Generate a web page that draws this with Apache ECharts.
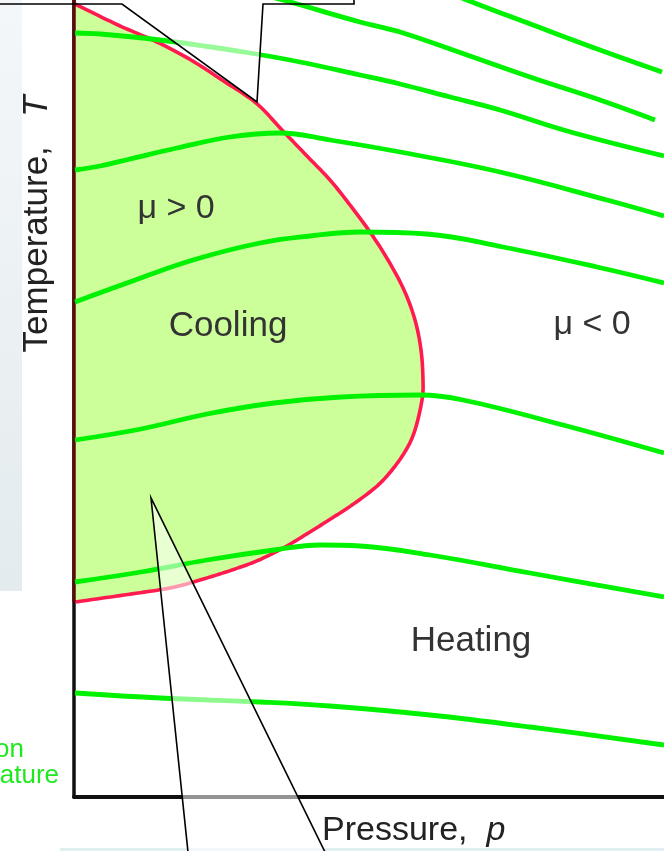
<!DOCTYPE html>
<html>
<head>
<meta charset="utf-8">
<style>html,body{margin:0;padding:0;background:#fff;}#c{width:664px;height:851px;}</style>
<script src="https://cdn.jsdelivr.net/npm/echarts@6/dist/echarts.min.js"></script>
</head>
<body>
<div id="c"></div>
<script>
// Pressure p (axis units) and temperature T (axis units)
var invP = [1, 44, 83, 117, 148, 182, 208, 232, 256, 276, 296, 314, 330, 341, 347, 349, 348, 341, 332, 318, 302, 278, 255, 231, 211, 185, 158, 126, 96, 50, 1];
var invT = [793, 772, 755, 737, 717, 694, 667, 642, 617, 592, 565, 537, 507, 477, 447, 417, 397, 367, 347, 327, 310, 292, 277, 262, 250, 237, 227, 217, 209, 202, 195];

var iso1P = [366, 393, 459, 526, 588];
var iso1T = [809, 797, 772, 747, 725];
var iso2P = [176, 209, 286, 326, 393, 459, 526, 581];
var iso2T = [805, 797, 775, 765, 742, 719, 697, 677];
var iso3P = [1, 26, 86, 176, 226, 286, 326, 376, 426, 493, 590];
var iso3T = [764, 763, 757, 744, 735, 722, 713, 700, 687, 666, 641];
var iso4P = [1, 26, 56, 103, 156, 206, 256, 326, 426, 533, 590];
var iso4T = [627, 631, 638, 649, 660, 664, 657, 645, 625, 597, 581];
var iso5P = [1, 53, 119, 186, 236, 286, 353, 429, 523, 590];
var iso5T = [495, 514, 537, 554, 561, 565, 563, 550, 530, 514];
var iso6P = [1, 67, 133, 200, 267, 346, 389, 489, 590];
var iso6T = [357, 368, 383, 394, 400, 402, 397, 372, 344];
var iso7P = [1, 67, 133, 200, 246, 286, 356, 456, 590];
var iso7T = [215, 225, 237, 247, 252, 251, 242, 224, 200];
var iso8P = [1, 86, 186, 256, 356, 456, 590];
var iso8T = [104, 99, 95, 91, 82, 70, 52];

var isoP = [iso1P, iso2P, iso3P, iso4P, iso5P, iso6P, iso7P, iso8P];
var isoT = [iso1T, iso2T, iso3T, iso4T, iso5T, iso6T, iso7T, iso8T];

var FONT = 'Liberation Sans, Arial, Helvetica, sans-serif';
var GREEN = '#00f200';
var RED = '#ff1a50';

function pairs(a, b) { return a.map(function (v, i) { return [v, b[i]]; }); }

// Catmull-Rom sampling of screen points (smooth curve through the read points)
function crSample(pts, steps) {
  var out = [], n = pts.length;
  for (var i = 0; i < n - 1; i++) {
    var p0 = pts[Math.max(i - 1, 0)], p1 = pts[i], p2 = pts[i + 1], p3 = pts[Math.min(i + 2, n - 1)];
    for (var s = 0; s < steps; s++) {
      var t = s / steps, t2 = t * t, t3 = t2 * t;
      var q = [0, 1].map(function (d) {
        return 0.5 * (2 * p1[d] + (-p0[d] + p2[d]) * t + (2 * p0[d] - 5 * p1[d] + 4 * p2[d] - p3[d]) * t2 + (-p0[d] + 3 * p1[d] - 3 * p2[d] + p3[d]) * t3);
      });
      out.push(q);
    }
  }
  out.push(pts[n - 1]);
  return out;
}

var series = [];
series.push({
  type: 'custom',
  coordinateSystem: 'cartesian2d',
  silent: true,
  z: 1,
  data: [[0, 0]],
  renderItem: function (params, api) {
    var raw = invP.map(function (p, i) { return api.coord([p, invT[i]]); });
    var curve = crSample(raw, 12);
    var axTop = api.coord([0, invT[0]]);
    var axBot = api.coord([0, invT[invT.length - 1]]);
    var poly = curve.concat([axBot, axTop]);
    return {
      type: 'group',
      children: [
        { type: 'polygon', shape: { points: poly }, style: { fill: '#ccff99', stroke: null } },
        { type: 'polyline', shape: { points: curve }, style: { stroke: RED, lineWidth: 3.6, fill: null, lineJoin: 'round' } },
        { type: 'line', shape: { x1: axTop[0], y1: axTop[1] - 4, x2: axBot[0], y2: axBot[1] }, style: { stroke: '#5a0b0b', lineWidth: 3.5 } }
      ]
    };
  }
});
for (var k = 0; k < isoP.length; k++) {
  series.push({
    type: 'line',
    data: pairs(isoP[k], isoT[k]),
    smooth: 0.4,
    symbol: 'none',
    silent: true,
    z: 3,
    clip: false,
    lineStyle: { color: GREEN, width: 4.8 }
  });
}

var chart = echarts.init(document.getElementById('c'), null, { renderer: 'canvas' });
chart.setOption({
  animation: false,
  backgroundColor: '#ffffff',
  grid: { left: 74, right: 0, top: 0, bottom: 54 },
  xAxis: {
    type: 'value', min: 0, max: 590,
    axisLine: { show: true, onZero: false, lineStyle: { color: '#111', width: 4 } },
    axisTick: { show: false }, axisLabel: { show: false }, splitLine: { show: false }
  },
  yAxis: {
    type: 'value', min: 0, max: 797,
    axisLine: { show: true, onZero: false, lineStyle: { color: '#111', width: 3.5 } },
    axisTick: { show: false }, axisLabel: { show: false }, splitLine: { show: false }
  },
  series: series,
  graphic: [
    { type: 'rect', z: 0, silent: true, shape: { x: 0, y: 0, width: 22, height: 591 },
      style: { fill: new echarts.graphic.LinearGradient(0, 0, 0, 1, [{ offset: 0, color: '#f4f7f9' }, { offset: 1, color: '#e3ebee' }]) } },
    { type: 'rect', z: 0, silent: true, shape: { x: 60, y: 848, width: 604, height: 3 }, style: { fill: '#e0eff2' } },
    // callout pointers (semi-transparent)
    { type: 'polygon', z: 100, silent: true, shape: { points: [[122, 4], [257, 102], [263, 4]] }, style: { fill: 'rgba(255,255,255,0.6)' } },
    { type: 'polyline', z: 101, silent: true, shape: { points: [[-2, 4], [122, 4], [257, 102], [263, 4], [354, 4], [354, -2]] }, style: { stroke: '#000', lineWidth: 1.6, fill: null } },
    { type: 'polygon', z: 100, silent: true, shape: { points: [[151, 498], [188, 852], [325, 852]] }, style: { fill: 'rgba(255,255,255,0.55)' } },
    { type: 'polyline', z: 101, silent: true, shape: { points: [[188, 852], [151, 498], [325, 852]] }, style: { stroke: '#000', lineWidth: 1.6, fill: null } },
    // labels
    { type: 'text', z: 110, silent: true, x: 176, y: 209, style: { text: 'μ > 0', fontSize: 34, fontFamily: FONT, fill: '#333', align: 'center', verticalAlign: 'middle' } },
    { type: 'text', z: 110, silent: true, x: 228, y: 326, style: { text: 'Cooling', fontSize: 35, fontFamily: FONT, fill: '#333', align: 'center', verticalAlign: 'middle' } },
    { type: 'text', z: 110, silent: true, x: 592, y: 325, style: { text: 'μ < 0', fontSize: 34, fontFamily: FONT, fill: '#333', align: 'center', verticalAlign: 'middle' } },
    { type: 'text', z: 110, silent: true, x: 471, y: 641, style: { text: 'Heating', fontSize: 35, fontFamily: FONT, fill: '#333', align: 'center', verticalAlign: 'middle' } },
    { type: 'text', z: 110, silent: true, x: 322, y: 831, style: { text: 'Pressure,  {i|p}', fontSize: 34, fontFamily: FONT, fill: '#222', align: 'left', verticalAlign: 'middle',
      rich: { i: { fontStyle: 'italic', fontSize: 34, fontFamily: FONT, fill: '#222' } } } },
    { type: 'text', z: 110, silent: true, x: 37, y: 224, rotation: Math.PI / 2, style: { text: 'Temperature,   {i|T}', fontSize: 35, fontFamily: FONT, fill: '#222', align: 'center', verticalAlign: 'middle',
      rich: { i: { fontStyle: 'italic', fontSize: 35, fontFamily: FONT, fill: '#222' } } } },
    { type: 'text', z: 110, silent: true, x: 24, y: 750, style: { text: 'Inversion', fontSize: 26, fontFamily: FONT, fill: '#1fe81f', align: 'right', verticalAlign: 'middle' } },
    { type: 'text', z: 110, silent: true, x: 59, y: 776, style: { text: 'temperature', fontSize: 26, fontFamily: FONT, fill: '#1fe81f', align: 'right', verticalAlign: 'middle' } }
  ]
});
</script>
</body>
</html>
